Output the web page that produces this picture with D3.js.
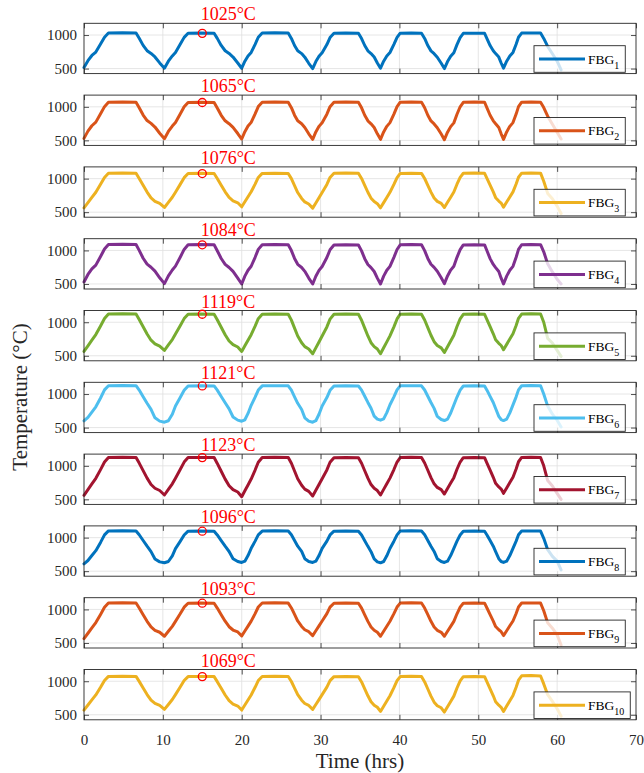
<!DOCTYPE html>
<html><head><meta charset="utf-8">
<script src="https://cdn.jsdelivr.net/npm/d3@7"></script>
<style>
body{margin:0;background:#fff}
svg{display:block}
text{font-family:"Liberation Serif","Times New Roman",serif}
</style>
</head><body>
<svg id="c" width="644" height="773"></svg>
<script>
// ---------------- DATA ----------------
const time = [0,0.5,1.0,1.5,2.1,2.6,
3.1,4.9,6.6,7.0,7.5,8.0,8.5,9.0,9.6,10.2,10.7,11.2,11.6,12.2,12.7,
13.2,14.8,16.5,16.9,17.4,17.9,18.4,18.9,19.5,20.0,20.4,20.8,21.2,21.7,22.1,
22.6,24.2,25.9,26.3,26.7,27.1,27.6,28.0,28.5,29.0,29.4,29.8,30.2,30.8,31.2,
31.7,33.2,34.8,35.2,35.6,36.0,36.4,36.8,37.2,37.6,38.0,38.4,38.8,39.3,39.7,
40.1,41.5,42.8,43.2,43.6,44.0,44.4,44.8,45.3,45.7,46.1,46.5,46.9,47.3,47.7,
48.1,49.5,50.8,51.1,51.5,51.9,52.2,52.6,52.9,53.2,53.6,54.0,54.4,54.8,55.1,
55.5,56.7,57.9,58.3,58.8,59.4,60.0,60.5];

const fbg1 = [515,618,695,747,865,968,
1030,1033,1030,951,846,767,725,673,584,505,610,688,740,861,965,
1028,1031,1028,950,845,766,725,672,583,505,610,689,741,862,967,
1030,1033,1030,950,844,765,723,670,579,500,605,684,737,858,963,
1026,1029,1026,948,844,765,724,672,583,505,610,688,740,861,965,
1028,1031,1028,949,843,764,722,669,579,500,605,684,736,857,962,
1025,1028,1025,947,843,765,723,671,583,505,610,689,741,862,967,
1030,1032,1030,950,830,720,610,480];

const fbg2 = [530,638,718,772,896,1003,
1068,1071,1068,987,878,796,753,699,606,525,633,714,768,892,1000,
1065,1068,1065,983,874,792,749,694,602,520,630,713,768,894,1004,
1070,1073,1070,987,876,792,748,693,598,515,626,709,764,891,1002,
1068,1071,1068,985,874,791,747,692,598,515,626,709,765,892,1003,
1070,1073,1070,986,874,790,745,689,594,510,622,705,761,889,1001,
1068,1071,1068,985,874,791,747,692,598,515,626,709,765,892,1003,
1070,1072,1070,990,860,740,620,520];

const fbg3 = [565,642,720,797,915,1018,
1080,1083,1080,1003,901,799,713,662,631,570,646,722,798,914,1015,
1076,1079,1076,1002,902,803,719,669,640,580,655,729,804,919,1018,
1078,1081,1078,1000,897,793,705,653,622,560,638,716,794,914,1018,
1080,1083,1080,1003,900,797,709,658,627,565,642,719,796,914,1016,
1078,1081,1078,1002,900,799,712,661,631,570,647,723,800,917,1019,
1080,1083,1080,1004,903,802,716,666,636,575,651,727,803,920,1021,
1082,1084,1082,960,780,700,590,480];

const fbg4 = [530,642,725,781,909,1021,
1088,1091,1088,1001,884,796,750,692,592,505,621,708,766,899,1015,
1084,1087,1084,996,880,792,745,687,588,500,617,705,764,898,1016,
1086,1089,1086,998,881,793,746,688,588,500,616,703,761,894,1010,
1080,1083,1080,993,877,790,744,686,587,500,617,704,763,897,1014,
1084,1087,1084,997,881,794,748,690,592,505,620,707,765,897,1013,
1082,1085,1082,995,878,791,744,686,587,500,617,705,763,898,1015,
1085,1087,1085,980,800,680,570,500];

const fbg5 = [565,649,732,816,944,1055,
1122,1125,1122,1041,932,824,732,678,645,580,661,742,823,947,1054,
1119,1122,1119,1036,925,814,720,665,631,565,648,732,815,942,1053,
1120,1123,1120,1031,913,795,695,636,601,530,618,706,795,930,1047,
1118,1121,1118,1030,912,795,695,636,601,530,619,707,796,931,1049,
1120,1123,1120,1034,920,806,710,653,618,550,635,720,806,936,1050,
1118,1121,1118,1039,933,828,738,685,653,590,670,750,829,952,1058,
1122,1125,1122,1000,760,690,580,490];

const fbg6 = [600,653,731,810,941,1062,
1125,1128,1125,1060,961,863,771,645,596,580,602,699,823,948,1056,
1121,1124,1121,1058,963,869,779,658,611,595,616,711,832,953,1059,
1122,1125,1122,1057,959,862,770,645,596,580,602,699,823,947,1055,
1120,1123,1120,1059,967,875,788,671,625,610,630,723,840,958,1061,
1122,1125,1122,1060,967,874,786,667,621,605,626,718,837,955,1058,
1120,1123,1120,1058,965,873,785,667,620,605,626,719,839,958,1062,
1124,1126,1124,1000,820,700,610,510];

const fbg7 = [560,645,730,814,944,1057,
1125,1128,1125,1041,929,817,722,666,632,565,649,732,816,944,1056,
1123,1126,1123,1036,919,802,703,645,610,540,628,715,803,937,1054,
1124,1127,1124,1038,923,808,711,653,619,550,636,722,807,939,1053,
1122,1125,1122,1038,927,816,721,665,632,565,649,733,817,945,1057,
1124,1127,1124,1042,934,825,732,678,645,580,661,743,824,949,1057,
1122,1125,1122,1042,936,829,739,686,654,590,670,751,831,954,1061,
1125,1127,1125,1000,780,700,590,500];

const fbg8 = [610,659,733,806,929,1041,
1100,1103,1100,1043,957,872,791,682,639,625,644,729,837,945,1039,
1096,1099,1096,1040,956,872,793,686,644,630,649,733,841,948,1042,
1098,1101,1098,1042,958,873,794,686,644,630,649,733,840,947,1040,
1096,1099,1096,1039,955,870,790,682,639,625,644,729,838,947,1041,
1098,1101,1098,1042,958,873,794,686,644,630,649,733,840,947,1040,
1096,1099,1096,1040,956,872,793,686,644,630,649,733,841,948,1042,
1098,1100,1098,990,820,720,650,520];

const fbg9 = [565,645,724,804,926,1032,
1096,1099,1096,1022,922,823,739,689,660,600,674,748,822,935,1034,
1093,1096,1093,1020,922,825,742,693,664,605,679,752,826,938,1036,
1095,1098,1095,1022,925,828,746,697,668,610,682,755,827,938,1035,
1093,1096,1093,1019,920,822,738,689,659,600,674,749,823,937,1036,
1095,1098,1095,1021,922,823,739,689,659,600,674,748,822,935,1034,
1093,1096,1093,1021,924,827,745,697,668,610,683,756,828,940,1037,
1095,1097,1095,980,800,720,620,470];

const fbg10 = [570,645,721,796,911,1012,
1072,1075,1072,998,900,801,718,669,639,580,653,727,800,913,1010,
1069,1072,1069,994,894,795,710,660,630,570,645,720,795,910,1010,
1070,1073,1070,996,898,800,717,668,639,580,653,726,800,912,1009,
1068,1071,1068,990,887,783,695,643,612,550,628,706,784,904,1008,
1070,1073,1070,990,884,778,688,635,604,540,619,698,778,899,1005,
1068,1071,1068,990,887,783,695,643,612,550,630,709,789,910,1016,
1080,1085,1078,960,800,700,590,480];

const seriesValues = [fbg1,fbg2,fbg3,fbg4,fbg5,fbg6,fbg7,fbg8,fbg9,fbg10];
const seriesNums = ["1","2","3","4","5","6","7","8","9","10"];
const peakTemps = [1025,1065,1076,1084,1119,1121,1123,1096,1093,1069];
const peakTime = 15;
const colors = ["#0072BD","#D95319","#EDB120","#7E2F8E","#77AC30","#4DBEEE","#A2142F","#0072BD","#D95319","#EDB120"];
const xTicks = [0,10,20,30,40,50,60,70];
const yTicks = [500,1000];
const yDomain = [425,1175];

// ---------------- LAYOUT ----------------
const left = 84, right = 636, top0 = 23.3, step = 71.8, ph = 50.3;
const axisCol = "#262626", gridCol = "#e0e0e0";
const svg = d3.select("#c");
svg.append("rect").attr("width",644).attr("height",773).attr("fill","#fff");
const x = d3.scaleLinear().domain([0,70]).range([left,right]);

seriesValues.forEach((vals,i)=>{
  const top = top0 + step*i, bot = top + ph;
  const y = d3.scaleLinear().domain(yDomain).range([bot, top]);
  const g = svg.append("g");
  // grid
  g.selectAll(".gx").data(xTicks.slice(1,-1)).join("line")
    .attr("x1",d=>x(d)).attr("x2",d=>x(d)).attr("y1",top).attr("y2",bot)
    .attr("stroke",gridCol).attr("stroke-width",0.8);
  g.selectAll(".gy").data(yTicks).join("line")
    .attr("x1",left).attr("x2",right).attr("y1",d=>y(d)).attr("y2",d=>y(d))
    .attr("stroke",gridCol).attr("stroke-width",0.8);
  // line
  const data = time.map((t,k)=>[t, vals[k]]);
  g.append("path").datum(data)
    .attr("d", d3.line().x(d=>x(d[0])).y(d=>y(d[1])))
    .attr("fill","none").attr("stroke",colors[i]).attr("stroke-width",3)
    .attr("stroke-linejoin","round").attr("stroke-linecap","round");
  // axes
  const ax = (sel)=>{sel.select(".domain").remove();
    sel.selectAll("line").attr("stroke",axisCol).attr("stroke-width",0.8);
    sel.selectAll("text").attr("fill","#262626").style("font-family","'Liberation Serif',serif").style("font-size","15px");};
  const xb = d3.axisBottom(x).tickValues(xTicks).tickSizeInner(-5).tickSizeOuter(0).tickPadding(15)
    .tickFormat(i===9 ? d3.format("d") : "");
  g.append("g").attr("transform",`translate(0,${bot})`).call(xb).call(ax);
  g.append("g").attr("transform",`translate(0,${top})`)
    .call(d3.axisTop(x).tickValues(xTicks).tickSizeInner(-5).tickSizeOuter(0).tickFormat("")).call(ax);
  g.append("g").attr("transform",`translate(${left},0)`)
    .call(d3.axisLeft(y).tickValues(yTicks).tickSizeInner(-5).tickSizeOuter(0).tickPadding(7).tickFormat(d3.format("d"))).call(ax);
  g.append("g").attr("transform",`translate(${right},0)`)
    .call(d3.axisRight(y).tickValues(yTicks).tickSizeInner(-5).tickSizeOuter(0).tickFormat("")).call(ax);
  g.append("rect").attr("x",left).attr("y",top).attr("width",right-left).attr("height",ph)
    .attr("fill","none").attr("stroke",axisCol).attr("stroke-width",0.9);
  // legend
  const lg = g.append("g");
  const lt = top + 22.4, lh = 26.6, lm = lt + lh/2;
  const box = lg.append("rect").attr("x",534).attr("y",lt).attr("height",lh)
    .attr("fill","#fff").attr("fill-opacity",0.8).attr("stroke",axisCol).attr("stroke-width",0.9);
  lg.append("line").attr("x1",539).attr("x2",585).attr("y1",lm).attr("y2",lm)
    .attr("stroke",colors[i]).attr("stroke-width",3);
  const tx = lg.append("text").attr("x",588).attr("y",lm+4.5).attr("fill","#000").style("font-size","13.5px");
  tx.append("tspan").text("FBG");
  tx.append("tspan").attr("dy",5).style("font-size","10px").text(seriesNums[i]);
  const bb = tx.node().getBBox();
  box.attr("width", bb.x + bb.width + 6 - 534);
  // peak annotation
  g.append("circle").attr("cx",x(peakTime)).attr("cy",y(peakTemps[i])).attr("r",4)
    .attr("fill","none").attr("stroke","#ff0000").attr("stroke-width",1.3);
  g.append("text").attr("x",x(peakTime)+26).attr("y",top-3).attr("text-anchor","middle")
    .attr("fill","#ff0000").style("font-size","18px").text(peakTemps[i]+"°C");
});

svg.append("text").attr("x",(left+right)/2).attr("y",768).attr("text-anchor","middle")
  .attr("fill","#262626").style("font-size","21px").text("Time (hrs)");
svg.append("text").attr("transform","translate(20,397) rotate(-90)").attr("text-anchor","middle")
  .attr("dominant-baseline","central").attr("fill","#262626").style("font-size","21px").text("Temperature (°C)");
</script>
</body></html>
